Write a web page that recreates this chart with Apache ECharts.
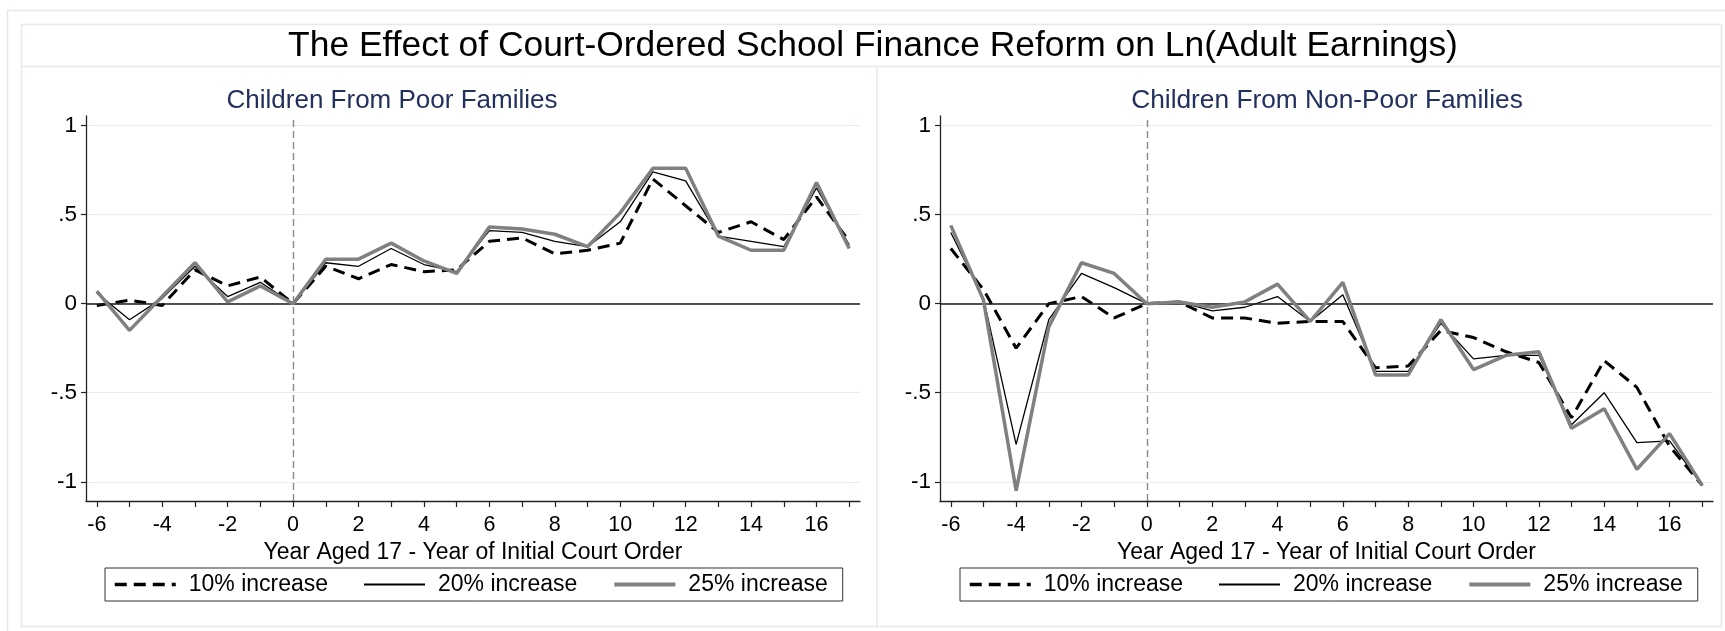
<!DOCTYPE html>
<html>
<head>
<meta charset="utf-8">
<script src="https://cdn.jsdelivr.net/npm/echarts@6/dist/echarts.min.js"></script>
<style>
  html, body { margin: 0; padding: 0; background: #fff; }
  #chart { width: 1725px; height: 631px; }
</style>
</head>
<body>
<div id="chart"></div>
<script>
// event time: year aged 17 minus year of the initial court order
var years = [-6, -5, -4, -3, -2, -1, 0, 1, 2, 3, 4, 5, 6, 7, 8, 9, 10, 11, 12, 13, 14, 15, 16, 17];

// children from poor families
var poor10 = [-0.01, 0.02, -0.01, 0.19, 0.10, 0.15, 0, 0.21, 0.14, 0.22, 0.18, 0.19, 0.35, 0.37, 0.28, 0.30, 0.34, 0.70, 0.55, 0.40, 0.46, 0.36, 0.60, 0.35];
var poor20 = [0.06, -0.09, 0.03, 0.21, 0.04, 0.12, 0, 0.23, 0.21, 0.31, 0.22, 0.18, 0.41, 0.40, 0.35, 0.32, 0.46, 0.74, 0.69, 0.38, 0.35, 0.32, 0.65, 0.33];
var poor25 = [0.07, -0.15, 0.04, 0.23, 0.01, 0.10, 0, 0.25, 0.25, 0.34, 0.24, 0.17, 0.43, 0.42, 0.39, 0.32, 0.51, 0.76, 0.76, 0.38, 0.30, 0.30, 0.68, 0.31];

// children from non-poor families
var nonpoor10 = [0.31, 0.08, -0.25, 0.00, 0.04, -0.08, 0, 0.01, -0.08, -0.08, -0.11, -0.10, -0.10, -0.36, -0.35, -0.15, -0.19, -0.27, -0.33, -0.64, -0.32, -0.47, -0.80, -1.02];
var nonpoor20 = [0.40, 0.03, -0.79, -0.09, 0.17, 0.09, 0, 0.01, -0.04, -0.02, 0.04, -0.10, 0.05, -0.38, -0.38, -0.11, -0.31, -0.29, -0.29, -0.68, -0.50, -0.78, -0.77, -1.02];
var nonpoor25 = [0.44, 0.02, -1.05, -0.13, 0.23, 0.17, 0, 0.01, -0.02, 0.01, 0.11, -0.10, 0.12, -0.40, -0.40, -0.09, -0.37, -0.29, -0.27, -0.70, -0.59, -0.93, -0.73, -1.02];

var seriesNames = ['10% increase', '20% increase', '25% increase'];
var xLabelValues = [-6, -4, -2, 0, 2, 4, 6, 8, 10, 12, 14, 16];
var yLabelValues = [-1, -0.5, 0, 0.5, 1];

var FONT = '"Liberation Sans", Arial, sans-serif';
var frameColor = '#e2eaec';

function pairs(vals) {
  return years.map(function (yr, i) { return [yr, vals[i]]; });
}

function lineStyles(i) {
  if (i === 0) return { color: '#000', width: 3, type: [12, 7] };
  if (i === 1) return { color: '#000', width: 1.3, type: 'solid' };
  return { color: '#808080', width: 3.5, type: 'solid' };
}

function makeSeries(gridIdx, sets) {
  return sets.map(function (vals, i) {
    var s = {
      name: seriesNames[i],
      type: 'line',
      xAxisIndex: gridIdx,
      yAxisIndex: gridIdx,
      data: pairs(vals),
      symbol: 'none',
      lineStyle: lineStyles(i),
      itemStyle: { color: lineStyles(i).color },
      z: 3 + i
    };
    if (i === 0) {
      s.markLine = {
        silent: true,
        symbol: 'none',
        label: { show: false },
        data: [
          { yAxis: 0, lineStyle: { color: '#1a1a1a', width: 1.6, type: 'solid' } },
          { xAxis: 0, lineStyle: { color: '#8a8a8a', width: 1.4, type: [7, 4] } }
        ]
      };
    }
    return s;
  });
}

function xAxisFor(gridIdx) {
  return {
    type: 'value',
    gridIndex: gridIdx,
    min: -6.33,
    max: 17.33,
    name: 'Year Aged 17 - Year of Initial Court Order',
    nameLocation: 'middle',
    nameGap: 32,
    nameTextStyle: { fontFamily: FONT, fontSize: 23, color: '#000', verticalAlign: 'top' },
    axisLine: { show: true, onZero: false, lineStyle: { color: '#222', width: 1.3 } },
    axisTick: { show: true, length: 6, lineStyle: { color: '#222', width: 1.2 },
      customValues: years },
    axisLabel: { fontFamily: FONT, fontSize: 21.5, color: '#000', margin: 13,
      customValues: xLabelValues },
    splitLine: { show: false }
  };
}

function yAxisFor(gridIdx) {
  return {
    type: 'value',
    gridIndex: gridIdx,
    min: -1.108,
    max: 1.054,
    axisLine: { show: true, onZero: false, lineStyle: { color: '#222', width: 1.3 } },
    axisTick: { show: true, length: 5, lineStyle: { color: '#222', width: 1.2 },
      customValues: yLabelValues },
    axisLabel: { fontFamily: FONT, fontSize: 22.5, color: '#000', margin: 9,
      customValues: yLabelValues,
      formatter: function (v) { return String(v).replace('0.', '.'); } },
    splitLine: { show: true, lineStyle: { color: '#e6eef0', width: 1.2 } }
  };
}

function legendFor(left) {
  return {
    data: seriesNames.map(function (n, i) {
      var ls = lineStyles(i);
      return { name: n, lineStyle: { color: ls.color, width: ls.width + 0.5, type: ls.type } };
    }),
    left: left,
    top: 568,
    orient: 'horizontal',
    itemWidth: 61,
    itemHeight: 14,
    itemGap: 35,
    padding: [5, 15, 5, 8],
    borderColor: '#333',
    borderWidth: 1,
    selectedMode: false,
    itemStyle: { opacity: 0 },
    textStyle: { fontFamily: FONT, fontSize: 23, color: '#000', padding: [0, 0, 0, 8] }
  };
}

var chart = echarts.init(document.getElementById('chart'), null, { renderer: 'canvas' });

chart.setOption({
  animation: false,
  backgroundColor: '#fff',
  title: [
    { text: 'The Effect of Court-Ordered School Finance Reform on Ln(Adult Earnings)',
      left: 868, top: 24, textAlign: 'center',
      textStyle: { fontFamily: FONT, fontSize: 35.4, fontWeight: 'normal', color: '#000' } },
    { text: 'Children From Poor Families',
      left: 387, top: 83, textAlign: 'center',
      textStyle: { fontFamily: FONT, fontSize: 26, fontWeight: 'normal', color: '#22305e' } },
    { text: 'Children From Non-Poor Families',
      left: 1322, top: 83, textAlign: 'center',
      textStyle: { fontFamily: FONT, fontSize: 26.3, fontWeight: 'normal', color: '#22305e' } }
  ],
  legend: [legendFor(105), legendFor(960)],
  grid: [
    { left: 86, top: 116, width: 774, height: 385 },
    { left: 940, top: 116, width: 773, height: 385 }
  ],
  xAxis: [xAxisFor(0), xAxisFor(1)],
  yAxis: [yAxisFor(0), yAxisFor(1)],
  series: makeSeries(0, [poor10, poor20, poor25]).concat(makeSeries(1, [nonpoor10, nonpoor20, nonpoor25])),
  graphic: [
    // graph region frames
    { type: 'rect', silent: true, z: -10, shape: { x: 7.5, y: 10.5, width: 1760, height: 660 },
      style: { fill: null, stroke: frameColor, lineWidth: 1.5 } },
    { type: 'rect', silent: true, z: -10, shape: { x: 21.5, y: 24.5, width: 1700, height: 602 },
      style: { fill: null, stroke: frameColor, lineWidth: 1.5 } },
    { type: 'line', silent: true, z: -10, shape: { x1: 21.5, y1: 66.5, x2: 1722, y2: 66.5 },
      style: { stroke: frameColor, lineWidth: 1.5 } },
    { type: 'line', silent: true, z: -10, shape: { x1: 877, y1: 66.5, x2: 877, y2: 626.5 },
      style: { stroke: frameColor, lineWidth: 1.5 } }
  ]
});
</script>
</body>
</html>
